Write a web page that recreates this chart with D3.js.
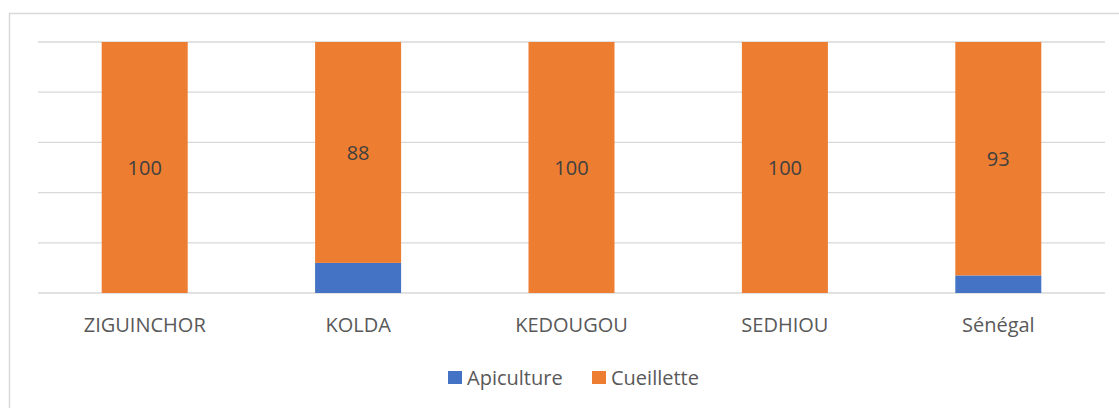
<!DOCTYPE html>
<html>
<head>
<meta charset="utf-8">
<script src="https://cdn.jsdelivr.net/npm/d3@7"></script>
<style>
  html, body { margin: 0; padding: 0; background: #fff; }
  svg { display: block; }
</style>
</head>
<body>
<svg id="chart" width="1119" height="408"></svg>
<script>
const categories = ["ZIGUINCHOR", "KOLDA", "KEDOUGOU", "SEDHIOU", "Sénégal"];
const apiculture = [0, 12, 0, 0, 7];
const cueillette = [100, 88, 100, 100, 93];
const seriesNames = ["Apiculture", "Cueillette"];
const seriesColors = ["#4472C4", "#ED7D31"];
const yTicks = [0, 20, 40, 60, 80, 100];

const svg = d3.select("#chart");
const font = "'Open Sans', 'Liberation Sans', sans-serif";

// chart area border
svg.append("rect")
  .attr("x", 9.5).attr("y", 13.5)
  .attr("width", 1200).attr("height", 500)
  .attr("fill", "none").attr("stroke", "#D9D9D9").attr("stroke-width", 1.5);

const plot = { left: 38, right: 1105, top: 42, bottom: 293 };

const x = d3.scaleBand().domain(categories)
  .range([plot.left, plot.right]).paddingInner(0.597).paddingOuter(0.2985);
const y = d3.scaleLinear().domain([0, 100]).range([plot.bottom, plot.top]);

// gridlines
svg.append("g").selectAll("line").data(yTicks).join("line")
  .attr("x1", plot.left).attr("x2", plot.right)
  .attr("y1", d => y(d)).attr("y2", d => y(d))
  .attr("stroke", "#D9D9D9").attr("stroke-width", 1.3);

const rows = categories.map((c, i) => ({ cat: c, Apiculture: apiculture[i], Cueillette: cueillette[i] }));
const stacked = d3.stack().keys(seriesNames)(rows);

svg.append("g").selectAll("g").data(stacked).join("g")
  .attr("fill", (d, i) => seriesColors[i])
  .selectAll("rect").data(d => d).join("rect")
  .attr("x", d => x(d.data.cat))
  .attr("width", x.bandwidth())
  .attr("y", d => y(d[1]))
  .attr("height", d => y(d[0]) - y(d[1]));

// data labels for Cueillette
const cue = stacked[1];
svg.append("g").selectAll("text").data(cue).join("text")
  .attr("x", d => x(d.data.cat) + x.bandwidth() / 2)
  .attr("y", d => (y(d[0]) + y(d[1])) / 2)
  .attr("dy", "0.36em")
  .attr("text-anchor", "middle")
  .attr("font-family", font).attr("font-size", 20)
  .attr("fill", "#404040")
  .text(d => d.data.Cueillette);

// x axis labels
const xAxis = d3.axisBottom(x).tickSize(0).tickPadding(0);
const gx = svg.append("g").attr("transform", `translate(0,${plot.bottom})`).call(xAxis);
gx.select(".domain").remove();
gx.selectAll("text")
  .attr("y", 39).attr("dy", 0)
  .attr("font-family", font).attr("font-size", 20).attr("fill", "#595959");

// legend
const legendItems = [
  { name: seriesNames[0], color: seriesColors[0], x: 448 },
  { name: seriesNames[1], color: seriesColors[1], x: 592 }
];
const lg = svg.append("g");
legendItems.forEach(it => {
  lg.append("rect").attr("x", it.x).attr("y", 371).attr("width", 14).attr("height", 13).attr("fill", it.color);
  lg.append("text").attr("x", it.x + 19).attr("y", 385)
    .attr("font-family", font).attr("font-size", 20).attr("fill", "#595959")
    .text(it.name);
});
</script>
</body>
</html>
